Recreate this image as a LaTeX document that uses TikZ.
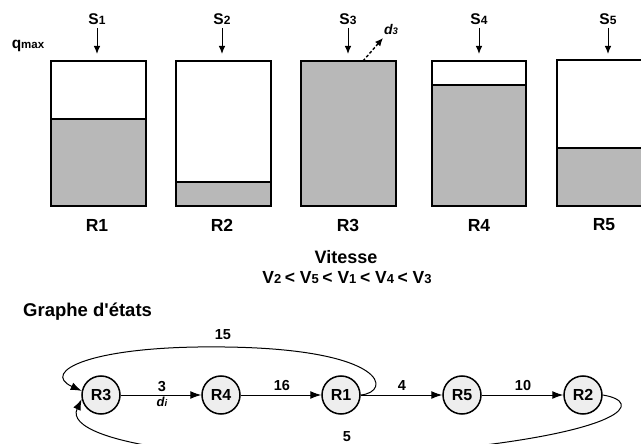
\documentclass[tikz,border=0pt]{standalone}
\usepackage{fontspec}
\setmainfont{Liberation Sans}
\usetikzlibrary{arrows.meta}
\definecolor{fillg}{HTML}{B8B8B8}
\definecolor{nodeg}{HTML}{EEEEEE}
\newcommand{\fsz}[1]{\fontsize{#1}{#1}\selectfont}
\begin{document}
\begin{tikzpicture}[x=1pt,y=-1pt,
  tankline/.style={draw=black,line width=1.8pt},
  lvl/.style={fill=fillg},
  lab/.style={font=\bfseries,inner sep=0pt},
  sarrow/.style={line width=1pt,-{Latex[length=8pt,width=6.5pt]}},
  st/.style={circle,draw=black,line width=1.5pt,fill=nodeg,minimum size=38pt,inner sep=0pt,font=\bfseries\fsz{16}},
  edge/.style={line width=1pt,-{Latex[length=11pt,width=8pt]}}]
\useasboundingbox (0,0) rectangle (641,444);
\clip (0,0) rectangle (641,444);
% tanks
\fill[lvl] (51,119) rectangle (146,206);
\draw[tankline] (51,61) rectangle (146,206);
\draw[tankline] (51,119) -- (146,119);
\fill[lvl] (176,182) rectangle (271,206);
\draw[tankline] (176,61) rectangle (271,206);
\draw[tankline] (176,182) -- (271,182);
\fill[lvl] (301,61) rectangle (396,206);
\draw[tankline] (301,61) rectangle (396,206);
\fill[lvl] (432,85) rectangle (526,206);
\draw[tankline] (432,61) rectangle (526,206);
\draw[tankline] (432,85) -- (526,85);
\fill[lvl] (557,148) rectangle (660,206);
\draw[tankline] (557,60) rectangle (660,206);
\draw[tankline] (557,148) -- (660,148);
% labels
\node[lab] (q) at (28,46) {\fsz{15.5}q\fsz{11.5}max};
\foreach \i/\x in {1/97,2/222,3/348,4/479,5/608}{
  \node[lab,anchor=base] (s\i) at (\x,25) {\fsz{15.5}S\fsz{12}\i};
  \coordinate (t\i) at (\x,54);
  \draw[sarrow] (\x,28) -- (t\i);
}
\foreach \i/\x in {1/97,2/222,3/348,4/479,5/604}{
  \node[lab] (r\i) at (\x,225) {\fsz{17.5}R\i};
}
\coordinate (d3s) at (363,61);
\coordinate (d3e) at (383,38);
\draw[line width=1.4pt,dash pattern=on 3pt off 2pt,-{Latex[length=8pt,width=7pt]}] (d3s) -- (d3e);
\node[lab] (d3) at (391,30) {\fsz{14}\itshape d\fsz{9.5}3};
\node[lab] (vit) at (346,257) {\fsz{18}Vitesse};
\node[lab] (vs) at (347,278) {\fsz{17.5}V\fsz{13}2 \fsz{17.5}< V\fsz{13}5 \fsz{17.5}< V\fsz{13}1 \fsz{17.5}< V\fsz{13}4 \fsz{17.5}< V\fsz{13}3};
\node[lab,anchor=west] (ge) at (23,312) {\fsz{18.5}Graphe d\textquotesingle états};
% graph
\node[st] (R3) at (101,395) {R3};
\node[st] (R4) at (221,395) {R4};
\node[st] (R1) at (341,395) {R1};
\node[st] (R5) at (462,395) {R5};
\node[st] (R2) at (583,395) {R2};
\draw[edge] (R3) -- (R4);
\draw[edge] (R4) -- (R1);
\draw[edge] (R1) -- (R5);
\draw[edge] (R5) -- (R2);
\node[lab] (l3) at (162,387) {\fsz{14.5}3};
\node[lab] (ldi) at (162,402) {\fsz{13}\itshape d\fsz{9.5}i};
\node[lab] (l16) at (282,386) {\fsz{14.5}16};
\node[lab] (l4) at (402,386) {\fsz{14.5}4};
\node[lab] (l10) at (523,386) {\fsz{14.5}10};
\coordinate (top) at (225,347);
\coordinate (bot) at (440,450);
\draw[edge] (R1.east) .. controls (392,392) and (388,349) .. (top)
   .. controls (90,345) and (40,372) .. (R3.168);
\draw[edge] (R2.east) .. controls (645,402) and (625,432) .. (bot)
   .. controls (250,470) and (60,445) .. (R3.192);
\node[lab] (l15) at (223,335) {\fsz{14.5}15};
\node[lab] (l5) at (347,437) {\fsz{14.5}5};
\end{tikzpicture}
\end{document}
